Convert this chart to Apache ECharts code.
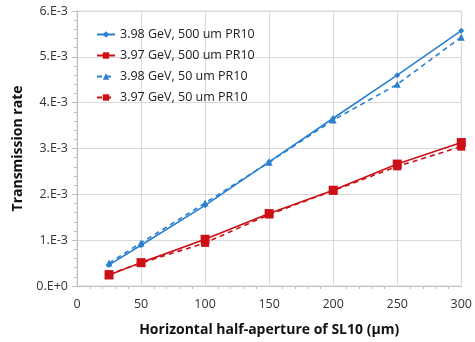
<!DOCTYPE html>
<html>
<head>
<meta charset="utf-8">
<script src="https://cdn.jsdelivr.net/npm/echarts@6/dist/echarts.min.js"></script>
<style>
  html, body { margin: 0; padding: 0; background: #fff; }
  #chart { width: 475px; height: 342px; }
</style>
</head>
<body>
<div id="chart"></div>
<script>
// half-aperture in um
const apertures = [25, 50, 100, 150, 200, 250, 300];

// transmission rate, units of 1e-3
const gev398_500 = [0.46, 0.89, 1.76, 2.71, 3.66, 4.60, 5.57];
const gev397_500 = [0.24, 0.51, 1.02, 1.58, 2.09, 2.66, 3.13];
const gev398_50 = [0.50, 0.94, 1.81, 2.70, 3.62, 4.40, 5.43];
const gev397_50 = [0.26, 0.50, 0.94, 1.56, 2.08, 2.61, 3.04];

const seriesNames = [
  "3.98 GeV, 500 um PR10",
  "3.97 GeV, 500 um PR10",
  "3.98 GeV, 50 um PR10",
  "3.97 GeV, 50 um PR10",
];

const BLUE = "#2a7fcf";
const RED = "#cc1016";
const FONT = "'Open Sans', 'Noto Sans', sans-serif";

const toPairs = (vals) => apertures.map((x, i) => [x, vals[i] / 1000]);

function makeSeries(name, vals, color, dashed, symbol, size) {
  return {
    name,
    type: "line",
    data: toPairs(vals),
    symbol,
    symbolSize: size,
    lineStyle: { color, width: 1.6, type: dashed ? [5, 4] : "solid" },
    itemStyle: { color },
    emphasis: { disabled: true },
    z: dashed ? 3 : 4,
  };
}

const chart = echarts.init(document.getElementById("chart"));

chart.setOption({
  animation: false,
  textStyle: { fontFamily: FONT },
  grid: { left: 77, right: 12, top: 11, bottom: 54, show: true, borderColor: "#d9d9d9", borderWidth: 1 },
  legend: {
    data: seriesNames,
    orient: "vertical",
    left: 91,
    top: 23,
    itemGap: 8,
    itemWidth: 18,
    itemHeight: 8,
    textStyle: { fontFamily: FONT, fontSize: 12.5, color: "#222" },
  },
  xAxis: {
    type: "value",
    min: 0,
    max: 300,
    interval: 50,
    name: "Horizontal half-aperture of SL10 (\u03bcm)",
    nameLocation: "middle",
    nameGap: 37,
    nameTextStyle: { fontFamily: FONT, fontSize: 14, fontWeight: "bold", color: "#111" },
    axisLine: { lineStyle: { color: "#bfbfbf" } },
    axisTick: { show: false },
    minorTick: { show: true, splitNumber: 5, length: 3, lineStyle: { color: "#bfbfbf" } },
    axisLabel: { fontFamily: FONT, fontSize: 12.5, color: "#333", margin: 12 },
    splitLine: { lineStyle: { color: "#d9d9d9" } },
  },
  yAxis: {
    type: "value",
    min: 0,
    max: 0.006,
    interval: 0.001,
    name: "Transmission rate",
    nameLocation: "middle",
    nameGap: 51,
    nameTextStyle: { fontFamily: FONT, fontSize: 14, fontWeight: "bold", color: "#111" },
    axisLine: { show: true, lineStyle: { color: "#bfbfbf" } },
    axisTick: { show: true, inside: false, length: 5, lineStyle: { color: "#bfbfbf" } },
    minorTick: { show: true, splitNumber: 5, length: 3, lineStyle: { color: "#bfbfbf" } },
    axisLabel: {
      fontFamily: FONT,
      fontSize: 12.5,
      color: "#333",
      margin: 9,
      formatter: (v) => (v === 0 ? "0.E+0" : Math.round(v * 1000) + ".E-3"),
    },
    splitLine: { lineStyle: { color: "#d9d9d9" } },
  },
  series: [
    makeSeries(seriesNames[0], gev398_500, BLUE, false, "diamond", 6),
    makeSeries(seriesNames[1], gev397_500, RED, false, "rect", 9),
    makeSeries(seriesNames[2], gev398_50, BLUE, true, "triangle", 7),
    makeSeries(seriesNames[3], gev397_50, RED, true, "rect", 8),
  ],
});
</script>
</body>
</html>
